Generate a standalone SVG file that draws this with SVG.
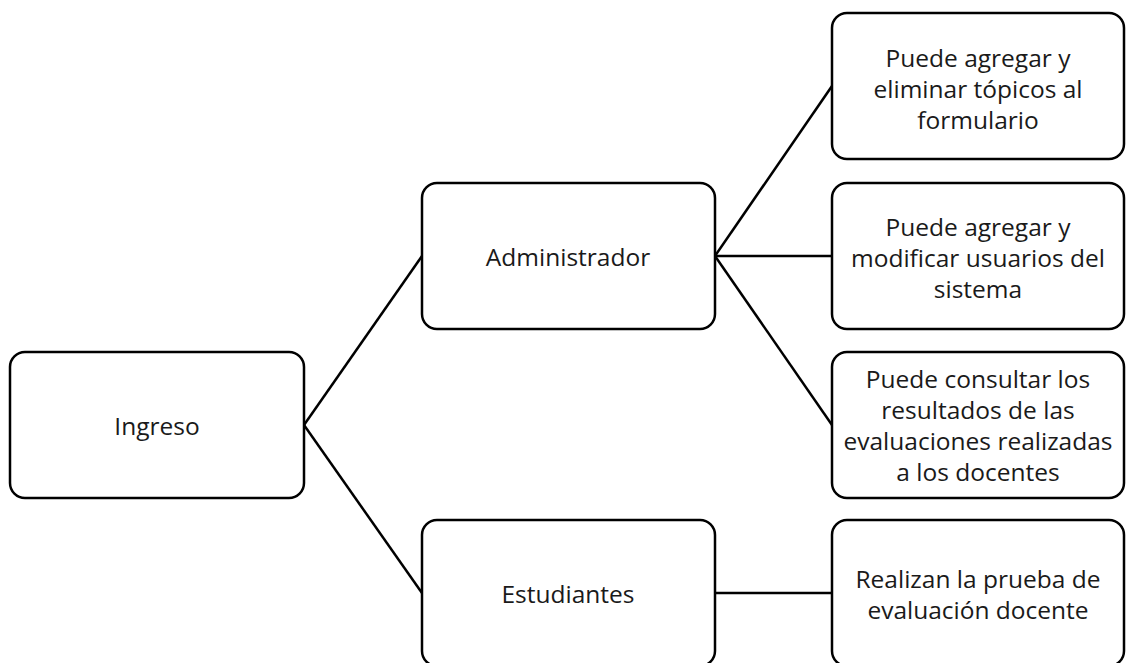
<svg xmlns="http://www.w3.org/2000/svg" width="1126" height="663" viewBox="0 0 1126 663">
<style>
.box{fill:#fff;stroke:#000;stroke-width:2.5}
.t{font-family:"Open Sans","Liberation Sans",sans-serif;font-size:24.5px;fill:#1a1a1a;text-anchor:middle;dominant-baseline:central}
.c{stroke:#000;stroke-width:2.5;fill:none}
</style>
<rect width="1126" height="663" fill="#fff"/>
<g id="connectors">
<line class="c" x1="304" y1="425" x2="422" y2="256"/>
<line class="c" x1="304" y1="425" x2="422" y2="593"/>
<line class="c" x1="715" y1="256" x2="832" y2="86"/>
<line class="c" x1="715" y1="256" x2="832" y2="256"/>
<line class="c" x1="715" y1="256" x2="832" y2="425"/>
<line class="c" x1="715" y1="593" x2="832" y2="593"/>
</g>
<g id="ingreso">
<rect class="box" x="10" y="352" width="294" height="146" rx="15"/>
<text class="t" x="157" y="425">Ingreso</text>
</g>
<g id="administrador">
<rect class="box" x="422" y="183" width="293" height="146" rx="15"/>
<text class="t" x="568" y="256">Administrador</text>
</g>
<g id="estudiantes">
<rect class="box" x="422" y="520" width="293" height="146" rx="15"/>
<text class="t" x="568" y="593">Estudiantes</text>
</g>
<g id="topicos">
<rect class="box" x="832" y="13" width="292" height="146" rx="15"/>
<text class="t" x="978" y="57">Puede agregar y</text>
<text class="t" x="978" y="88">eliminar tópicos al</text>
<text class="t" x="978" y="119">formulario</text>
</g>
<g id="usuarios">
<rect class="box" x="832" y="183" width="292" height="146" rx="15"/>
<text class="t" x="978" y="226">Puede agregar y</text>
<text class="t" x="978" y="257">modificar usuarios del</text>
<text class="t" x="978" y="288">sistema</text>
</g>
<g id="consultar">
<rect class="box" x="832" y="352" width="292" height="146" rx="15"/>
<text class="t" x="978" y="378">Puede consultar los</text>
<text class="t" x="978" y="409">resultados de las</text>
<text class="t" x="978" y="440">evaluaciones realizadas</text>
<text class="t" x="978" y="471">a los docentes</text>
</g>
<g id="realizan">
<rect class="box" x="832" y="520" width="292" height="146" rx="15"/>
<text class="t" x="978" y="578">Realizan la prueba de</text>
<text class="t" x="978" y="609">evaluación docente</text>
</g>
</svg>
